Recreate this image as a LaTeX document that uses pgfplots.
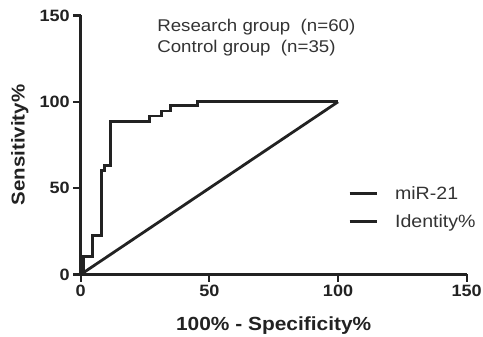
\documentclass[border=0pt]{standalone}
\usepackage{fontspec}
\setmainfont[FakeStretch=1.1]{Liberation Sans}
\usepackage{pgfplots}
\pgfplotsset{compat=1.18}
\definecolor{ink}{HTML}{222222}
\definecolor{txt}{HTML}{333333}
\begin{document}
\begin{tikzpicture}
\useasboundingbox (-80.7pt,-62.5pt) rectangle (402.3pt,274.5pt);
\begin{axis}[
  scale only axis,
  width=386pt, height=259pt,
  xmin=0, xmax=150, ymin=0, ymax=150,
  axis lines=left,
  axis line style={line width=2.8pt, color=ink, -},
  xtick={0,50,100,150}, ytick={0,50,100,150},
  tick align=outside,
  major tick length=7.5pt,
  tick style={line width=2.2pt, color=ink},
  /pgf/number format/assume math mode=true,
  tick label style={font=\fontsize{16.4}{18}\selectfont\bfseries, color=ink},
  xlabel={100\% - Specificity\%},
  ylabel={Sensitivity\%},
  xlabel style={font=\fontsize{19}{22}\selectfont\bfseries, color=ink, at={(rel axis cs:0.5,0)}, anchor=base, yshift=-56.5pt},
  ylabel style={font=\fontsize{18.6}{22}\selectfont\bfseries, color=ink, at={(axis description cs:-0.158,0.5)}, anchor=center},
  clip=false,
  legend style={draw=none, fill=none, at={(axis cs:103.9,38.8)}, anchor=west, inner sep=0pt,
    font=\fontsize{17.8}{20}\selectfont, text=txt, row sep=14pt, column sep=17pt,
    nodes={inner sep=0pt}},
  legend cell align=left,
  legend image code/.code={\draw[line width=2.8pt, color=ink] (0pt,0pt) -- (27pt,0pt);},
]
\addplot[line width=2.8pt, color=ink] coordinates {
(0,0) (1,0) (1,10.5) (4.7,10.5) (4.7,22.5) (8.1,22.5) (8.1,60) (9.4,60) (9.4,63) (11.5,63) (11.5,88.7) (26.8,88.7) (26.8,91.8) (31.4,91.8) (31.4,94.7) (34.9,94.7) (34.9,97.7) (45.3,97.7) (45.3,100) (100,100)
};
\addlegendentry{miR-21}
\addplot[line width=2.8pt, color=ink] coordinates {(0,0) (100,100)};
\addlegendentry{Identity\%}
\node[anchor=base west, inner sep=0pt, text=txt, font=\fontsize{17}{20}\selectfont] at (axis cs:29.7,140.6) {Research group\ \ (n=60)};
\node[anchor=base west, inner sep=0pt, text=txt, font=\fontsize{17}{20}\selectfont] at (axis cs:29.7,128.4) {Control group\ \ (n=35)};
\end{axis}
\end{tikzpicture}
\end{document}
